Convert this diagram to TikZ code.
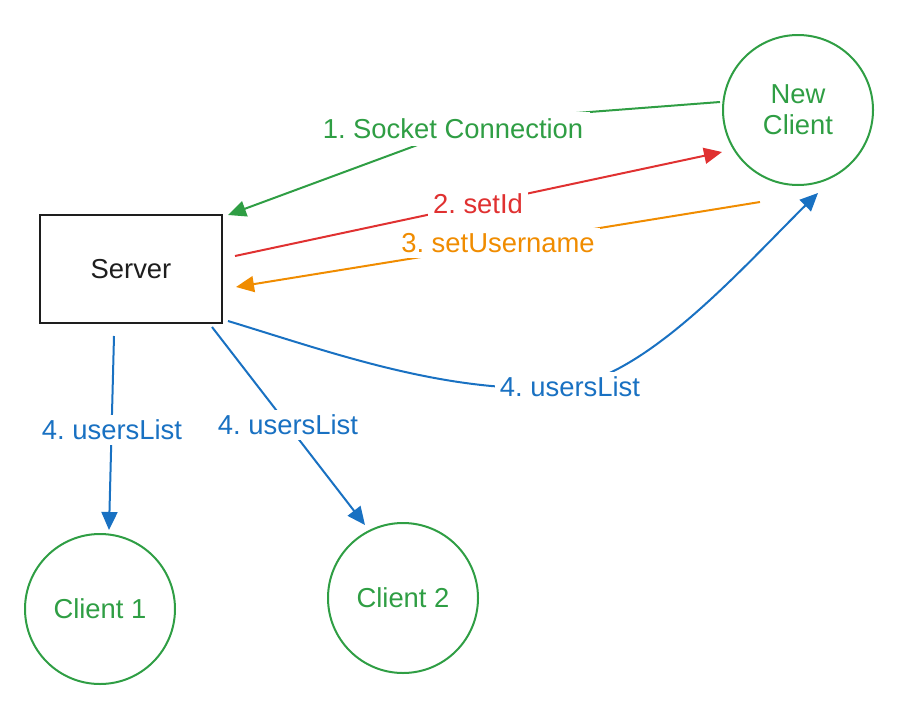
\documentclass[tikz,border=0pt]{standalone}
\usepackage{fontspec}
\setmainfont{Liberation Sans}
\usetikzlibrary{arrows.meta}
\definecolor{exgreen}{HTML}{2F9E44}
\definecolor{exred}{HTML}{E03131}
\definecolor{exorange}{HTML}{F08C00}
\definecolor{exblue}{HTML}{1971C2}
\definecolor{exblack}{HTML}{1E1E1E}
\frenchspacing
\tikzset{
  txt/.style={font=\fontsize{27.4}{31}\selectfont},
  client/.style={txt, circle, draw=exgreen, line width=2pt, minimum size=150pt, inner sep=0pt, outer sep=0pt, text=exgreen, align=center},
  serverbox/.style={txt, rectangle, draw=exblack, line width=2.5pt, minimum width=182pt, minimum height=108pt, inner sep=0pt, outer sep=0pt, text=exblack},
  conn/.style={line width=2pt, -{Triangle[length=18pt,width=16pt]}},
  lab/.style={txt, fill=white, inner sep=5pt},
}
\begin{document}
\begin{tikzpicture}[x=1pt,y=-1pt]
\useasboundingbox (0,0) rectangle (907,715);
\node[serverbox] (server) at (131,269) {Server};
\node[client] (newc) at (798,110) {New\\Client};
\node[client] (c1) at (100,609) {Client 1};
\node[client] (c2) at (403,598) {Client 2};
\coordinate (g1) at (485,120);
% 1. socket connection
\draw[conn, exgreen] ([shift={(-78,-8)}]newc.center) -- (g1) -- ([xshift=6pt]server.north east);
% 2. setId
\draw[conn, exred] ([shift={(13,-13)}]server.east) -- ([shift={(-76,42)}]newc.center);
% 3. setUsername
\draw[conn, exorange] ([shift={(-38,92)}]newc.center) -- ([shift={(14,18)}]server.east);
% 4. usersList (curve to new client)
\draw[conn, exblue] ([shift={(6,-2)}]server.south east) .. controls (330,352) and (440,392) .. (555,388) .. controls (640,385) and (740,270) .. ([shift={(20,83)}]newc.center);
% 4. usersList to client 1
\draw[conn, exblue] ([shift={(-17,13)}]server.south) -- ([shift={(9,-79)}]c1.center);
% 4. usersList to client 2
\draw[conn, exblue] ([shift={(-10,4)}]server.south east) -- ([shift={(-38,-73)}]c2.center);
% labels
\node[lab, text=exgreen, inner sep=7pt] (l1) at (453,129) {1. Socket Connection};
\node[lab, text=exred] (l2) at (478,204) {2. setId};
\node[lab, text=exorange] (l3) at (498,243) {3. setUsername};
\node[lab, text=exblue] (l4a) at (570,387) {4. usersList};
\node[lab, text=exblue] (l4b) at (112,430) {4. usersList};
\node[lab, text=exblue] (l4c) at (288,425) {4. usersList};
\end{tikzpicture}
\end{document}
